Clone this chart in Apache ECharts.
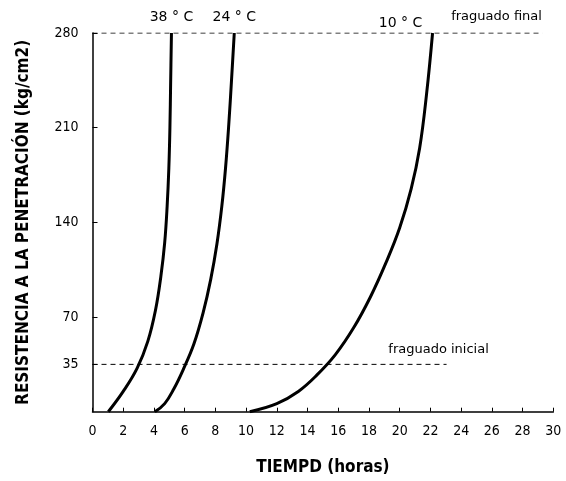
<!DOCTYPE html>
<html>
<head>
<meta charset="utf-8">
<script src="https://cdn.jsdelivr.net/npm/echarts@6/dist/echarts.min.js"></script>
<style>
  html, body { margin: 0; padding: 0; background: #fff; }
  #chart { width: 566px; height: 481px; }
</style>
</head>
<body>
<div id="chart"></div>
<script>
// time (hours) and penetration resistance (kg/cm2)
var t38 = [1.03, 2.0, 2.9, 3.6, 4.1, 4.45, 4.7, 4.86, 4.97, 5.04, 5.09, 5.14];
var r38 = [0, 15, 32, 52, 75, 100, 125, 152, 180, 210, 245, 280];
var t24 = [4.06, 4.7, 5.3, 5.9, 6.6, 7.2, 7.7, 8.1, 8.42, 8.66, 8.87, 9.05, 9.23];
var r24 = [0, 6, 17, 31, 50, 73, 98, 124, 152, 180, 212, 245, 280];
var t10 = [10.24, 12.0, 13.4, 14.6, 15.8, 17.0, 18.1, 19.1, 20.0, 20.75, 21.3, 21.75, 22.14];
var r10 = [0, 6, 15, 27, 42, 62, 85, 110, 136, 165, 195, 235, 280];
var curveNames = ['38 ° C', '24 ° C', '10 ° C'];

// setting limits: value, how far the dashed line runs (hours), label
var setValues = [35, 280];
var setEnds = [23.05, 29.3];
var setNames = ['fraguado inicial', 'fraguado final'];

var yTicks = [35, 70, 140, 210, 280];

var font = '"DejaVu Sans Condensed", "DejaVu Sans", sans-serif';
var wideFont = '"DejaVu Sans", sans-serif';

function pairs(ts, rs, name, labelOpt) {
  return ts.map(function (t, i) {
    var item = { value: [t, rs[i]] };
    if (i === ts.length - 1) {
      item.label = Object.assign({ show: true, formatter: name }, labelOpt);
    }
    return item;
  });
}

var curveLabel = { position: 'top', distance: 8, color: '#000', fontSize: 14, fontFamily: wideFont };
var curveOffsets = [[0, -1], [0, -1], [-32, 5]];
var curveData = [[t38, r38], [t24, r24], [t10, r10]];

var series = curveData.map(function (c, k) {
  return {
    type: 'line',
    data: pairs(c[0], c[1], curveNames[k], Object.assign({ offset: curveOffsets[k] }, curveLabel)),
    smooth: 0.4,
    symbol: 'circle',
    symbolSize: 0.1,
    showSymbol: true,
    lineStyle: { color: '#000', width: 3 },
    itemStyle: { color: '#000' },
    silent: true
  };
});

var setOffsets = [[-8, 0], [-46, -2]];
setValues.forEach(function (v, k) {
  series.push({
    type: 'line',
    data: pairs([0, setEnds[k]], [v, v], setNames[k],
      { position: 'top', distance: 8, offset: setOffsets[k], color: '#000', fontSize: 13, fontFamily: wideFont }),
    symbol: 'circle',
    symbolSize: 0.1,
    showSymbol: true,
    lineStyle: { color: '#000', width: 1, type: [5, 4] },
    itemStyle: { color: '#000' },
    silent: true,
    z: 1
  });
});

var chart = echarts.init(document.getElementById('chart'));
chart.setOption({
  animation: false,
  backgroundColor: '#fff',
  grid: { left: 92.5, right: 12.7, top: 33, bottom: 69.3, outerBoundsMode: 'none' },
  xAxis: {
    type: 'value',
    min: 0,
    max: 30,
    interval: 2,
    name: 'TIEMPD (horas)',
    nameLocation: 'middle',
    nameGap: 47,
    nameTextStyle: { color: '#000', fontSize: 17, fontWeight: 'bold', fontFamily: font },
    axisLine: { lineStyle: { color: '#000', width: 1.5 } },
    axisTick: { inside: true, length: 4, lineStyle: { color: '#000' } },
    axisLabel: { color: '#000', fontSize: 14, margin: 13, fontFamily: font },
    splitLine: { show: false }
  },
  yAxis: {
    type: 'value',
    min: 0,
    max: 280,
    name: 'RESISTENCIA A LA PENETRACIÓN (kg/cm2)',
    nameLocation: 'middle',
    nameGap: 60,
    nameTextStyle: { color: '#000', fontSize: 17, fontWeight: 'bold', fontFamily: font },
    axisLine: { show: true, lineStyle: { color: '#000', width: 1.5 } },
    axisTick: { show: true, inside: true, length: 5, customValues: yTicks, lineStyle: { color: '#000' } },
    axisLabel: { color: '#000', fontSize: 14, margin: 14, customValues: yTicks, fontFamily: font },
    splitLine: { show: false }
  },
  series: series
});
</script>
</body>
</html>
